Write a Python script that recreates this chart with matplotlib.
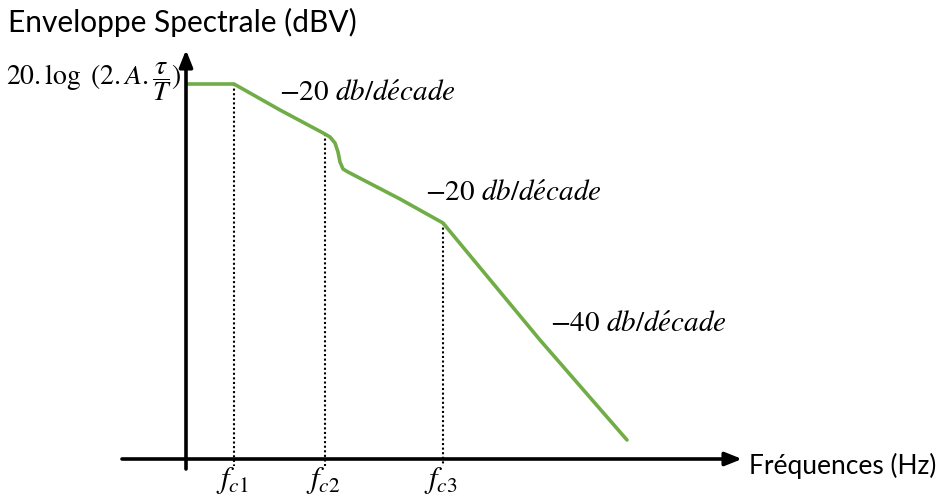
import matplotlib.pyplot as plt

plt.rcParams['mathtext.fontset'] = 'stix'

# asymptotic envelope (x: frequency position, y: level, screen-like units)
curve_x = [188, 234, 280, 325, 330, 335, 338, 340, 343, 348, 400, 443, 540, 627]
curve_y = [84, 84, 110, 134, 137, 143, 152, 162, 169, 172, 199, 223, 340, 440]

# cut-off frequencies and their level on the curve
fc_x = [234, 325, 443]
fc_y = [84, 134, 223]
fc_labels = [r'$f_{c1}$', r'$f_{c2}$', r'$f_{c3}$']

slope_labels = [r'$-20\ db/d\acute{e}cade$', r'$-20\ db/d\acute{e}cade$', r'$-40\ db/d\acute{e}cade$']
slope_pos = [(279, 93), (425, 193), (550, 324)]

fig = plt.figure(figsize=(9.39, 4.97), dpi=100)
ax = fig.add_axes([0, 0, 1, 1])
ax.set_xlim(0, 939)
ax.set_ylim(497, 0)
ax.axis('off')

# axes with arrows
ax.annotate('', xy=(742, 459), xytext=(122, 459),
            arrowprops=dict(arrowstyle='-|>,head_length=1.0,head_width=0.4', lw=2.6, color='black',
                            shrinkA=0, shrinkB=0))
ax.annotate('', xy=(186, 50), xytext=(186, 469),
            arrowprops=dict(arrowstyle='-|>,head_length=1.0,head_width=0.4', lw=2.6, color='black',
                            shrinkA=0, shrinkB=0))

# dotted guides
for x, y in zip(fc_x, fc_y):
    ax.plot([x, x], [y, 466], color='black', lw=1.5, ls=(0, (1, 1.2)))

ax.plot(curve_x, curve_y, color='#70AD47', lw=2.6, solid_capstyle='round', solid_joinstyle='round')

for x, lab in zip(fc_x, fc_labels):
    ax.text(x - 2, 480, lab, fontsize=22, ha='center', va='center')

for (x, y), lab in zip(slope_pos, slope_labels):
    ax.text(x, y, lab, fontsize=21, ha='left', va='center')

ax.text(181, 82, r'$20.\log\ (2.A.\dfrac{\tau}{T})$', fontsize=20, ha='right', va='center')
ax.text(8, 22, 'Enveloppe Spectrale (dBV)', fontsize=21.5, family='Lato', ha='left', va='center')
ax.text(749, 466, 'Fréquences (Hz)', fontsize=19, family='Lato', ha='left', va='center')

fig.savefig('out.png', dpi=100)
